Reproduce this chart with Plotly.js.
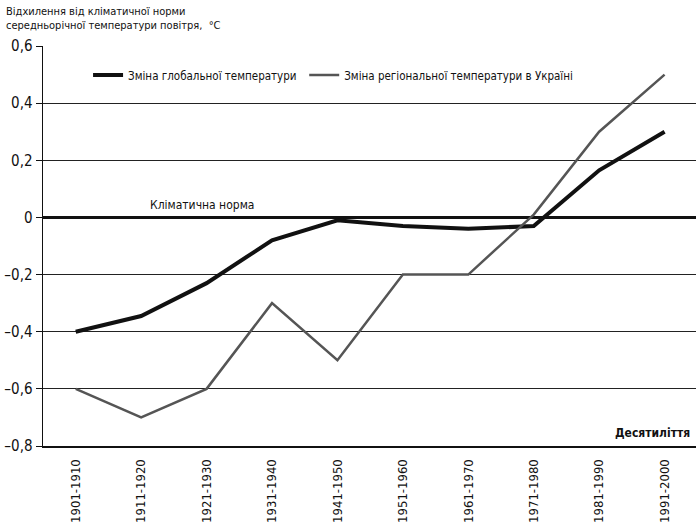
<!DOCTYPE html>
<html>
<head>
<meta charset="utf-8">
<script src="https://cdn.plot.ly/plotly-3.0.1.min.js"></script>
<style>html,body{margin:0;padding:0;background:#fff;}#chart{width:696px;height:524px;}</style>
</head>
<body>
<div id="chart"></div>
<script>
const decades = ["1901-1910","1911-1920","1921-1930","1931-1940","1941-1950","1951-1960","1961-1970","1971-1980","1981-1990","1991-2000"];
const globalTemp = [-0.40,-0.345,-0.23,-0.08,-0.01,-0.03,-0.04,-0.03,0.165,0.30];
const ukraineTemp = [-0.60,-0.70,-0.60,-0.30,-0.50,-0.20,-0.20,0.01,0.30,0.50];
const yTickVals = [0.6,0.4,0.2,0,-0.2,-0.4,-0.6,-0.8];
const yTickText = ["0,6","0,4","0,2","0","–0,2","–0,4","–0,6","–0,8"];
const seriesNames = ["Зміна глобальної температури","Зміна регіональної температури в Україні"];

const FONT = "'Liberation Sans Narrow', 'Arial Narrow', 'DejaVu Sans Condensed', sans-serif";
const legendFont = {family: FONT, size: 11.5, color: '#111'};

const data = [
  {x: decades, y: globalTemp, type: 'scatter', mode: 'lines', name: seriesNames[0],
   line: {color: '#111', width: 4}, legend: 'legend'},
  {x: decades, y: ukraineTemp, type: 'scatter', mode: 'lines', name: seriesNames[1],
   line: {color: '#555', width: 2.5}, legend: 'legend2'}
];

const layout = {
  width: 696, height: 524,
  margin: {l: 43, r: 0, t: 46, b: 78},
  paper_bgcolor: '#fff', plot_bgcolor: '#fff',
  font: {family: FONT, color: '#111', size: 13},
  showlegend: true,
  legend: {orientation: 'h', x: 0.069, xanchor: 'left', y: 0.9275, yanchor: 'middle',
           font: legendFont, bgcolor: 'rgba(0,0,0,0)'},
  legend2: {orientation: 'h', x: 0.40, xanchor: 'left', y: 0.9275, yanchor: 'middle',
           font: legendFont, bgcolor: 'rgba(0,0,0,0)'},
  xaxis: {type: 'category', range: [-0.5, 9.48], showgrid: false, zeroline: false,
          showline: true, linecolor: '#111', linewidth: 2, ticks: '',
          tickangle: -90, tickfont: {family: FONT, size: 13, color: '#111'}, ticklabelstandoff: 6},
  yaxis: {range: [-0.8, 0.6], tickvals: yTickVals, ticktext: yTickText,
          showgrid: true, gridcolor: '#222', gridwidth: 1,
          zeroline: true, zerolinecolor: '#111', zerolinewidth: 3,
          showline: true, linecolor: '#111', linewidth: 1.5,
          ticks: 'outside', ticklen: 6, tickcolor: '#111', tickwidth: 1,
          tickfont: {family: FONT, size: 15, color: '#111'}},
  annotations: [
    {xref: 'paper', yref: 'paper', x: -0.059, y: 1.108, xanchor: 'left', yanchor: 'top', align: 'left',
     showarrow: false, text: 'Відхилення від кліматичної норми<br>середньорічної температури повітря,  °C',
     font: {family: FONT, size: 11, color: '#111'}},
    {xref: 'x', yref: 'y', x: 1.1, y: 0, xanchor: 'left', yanchor: 'bottom', yshift: 3,
     showarrow: false, text: 'Кліматична норма', font: {family: FONT, size: 12, color: '#111'}},
    {xref: 'paper', yref: 'y', x: 1, y: -0.8, xanchor: 'right', yanchor: 'bottom', xshift: -4, yshift: 4,
     showarrow: false, text: '<b>Десятиліття</b>', font: {family: FONT, size: 12, color: '#111'}}
  ]
};

Plotly.newPlot('chart', data, layout, {displayModeBar: false, staticPlot: true});
</script>
</body>
</html>
